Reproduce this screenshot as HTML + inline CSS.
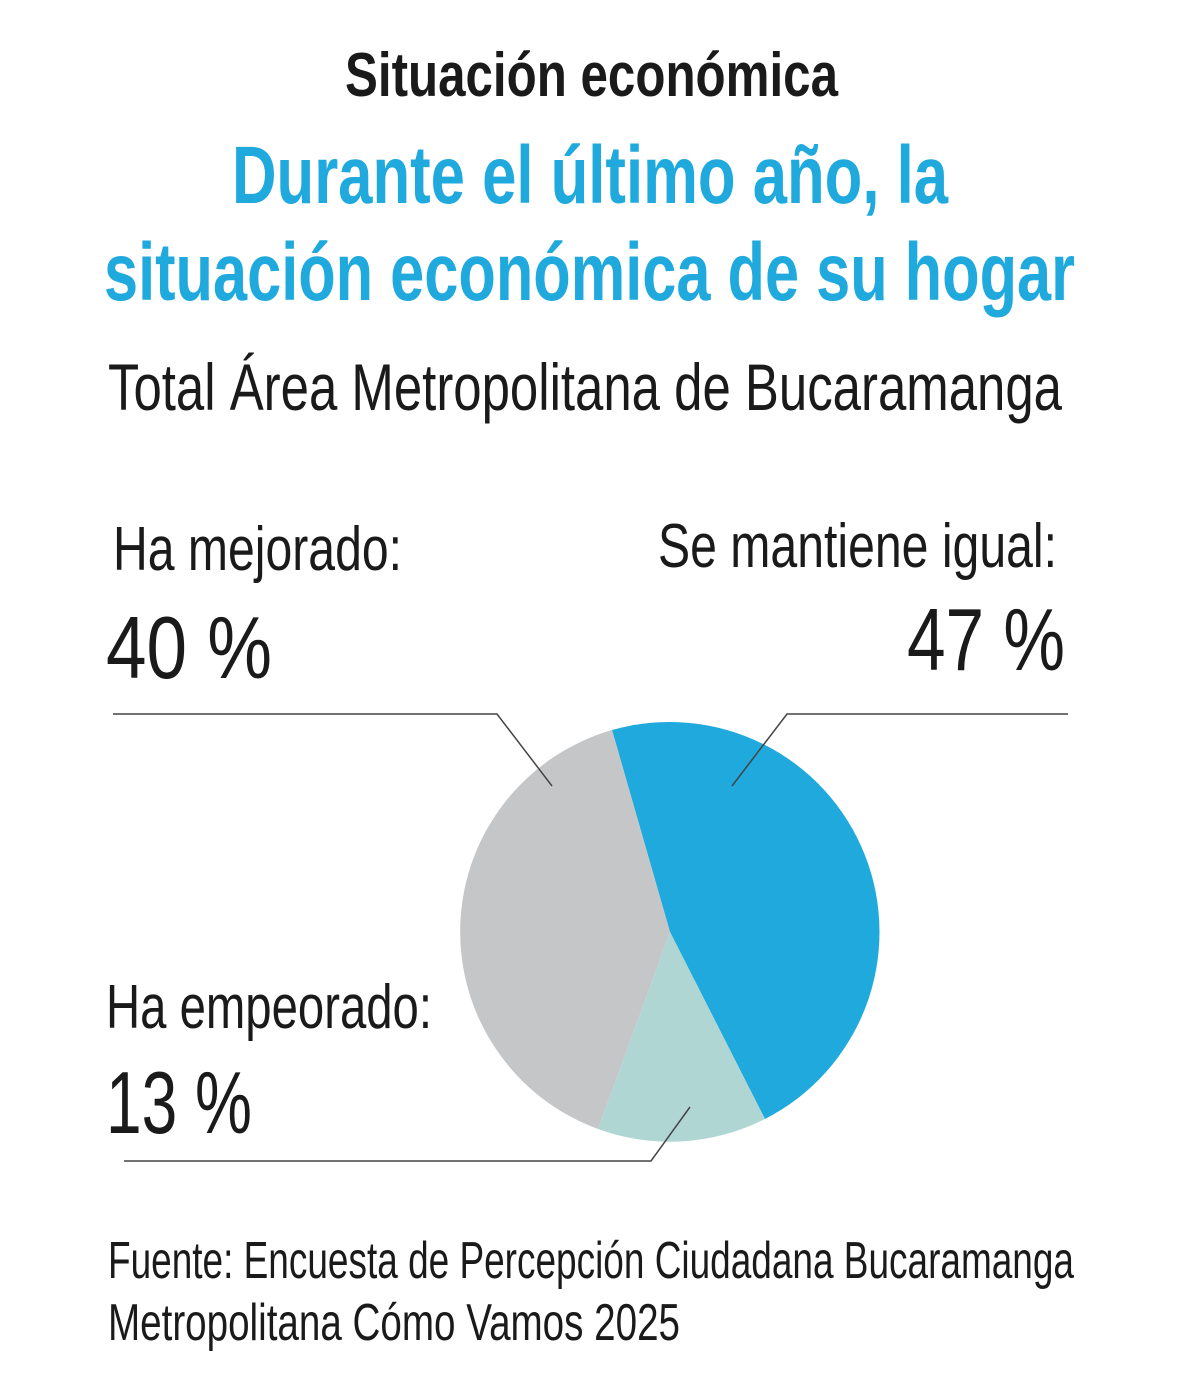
<!DOCTYPE html>
<html><head><meta charset="utf-8"><style>
html,body{margin:0;padding:0;background:#fff;}
svg{display:block;}
text{font-family:"Liberation Sans Narrow","Liberation Sans",sans-serif;}
</style></head><body>
<svg width="1200" height="1379" viewBox="0 0 1200 1379" xmlns="http://www.w3.org/2000/svg">
<rect width="1200" height="1379" fill="#fff"/>
<text x="345" y="96" font-size="62" font-weight="bold" fill="#1a1a1a" textLength="493" lengthAdjust="spacingAndGlyphs">Situación económica</text>
<text x="232" y="203" font-size="82" font-weight="bold" fill="#1fa9dc" textLength="716" lengthAdjust="spacingAndGlyphs">Durante el último año, la</text>
<text x="104" y="300" font-size="82" font-weight="bold" fill="#1fa9dc" textLength="971" lengthAdjust="spacingAndGlyphs">situación económica de su hogar</text>
<text x="108" y="410" font-size="66" fill="#1a1a1a" textLength="954" lengthAdjust="spacingAndGlyphs">Total Área Metropolitana de Bucaramanga</text>

<text x="113" y="570" font-size="62" fill="#1a1a1a" textLength="289" lengthAdjust="spacingAndGlyphs">Ha mejorado:</text>
<text x="106" y="678" font-size="88" fill="#1a1a1a" textLength="166" lengthAdjust="spacingAndGlyphs">40 %</text>
<text x="658" y="567" font-size="62" fill="#1a1a1a" textLength="399" lengthAdjust="spacingAndGlyphs">Se mantiene igual:</text>
<text x="907" y="670" font-size="88" fill="#1a1a1a" textLength="158" lengthAdjust="spacingAndGlyphs">47 %</text>
<text x="106" y="1028" font-size="62" fill="#1a1a1a" textLength="326" lengthAdjust="spacingAndGlyphs">Ha empeorado:</text>
<text x="106" y="1133" font-size="88" fill="#1a1a1a" textLength="146" lengthAdjust="spacingAndGlyphs">13 %</text>

<path d="M670 932 L612 730 A210 210 0 0 1 765 1119 Z" fill="#1fa9dc"/>
<path d="M670 932 L765 1119 A210 210 0 0 1 598 1129 Z" fill="#b0d6d4"/>
<path d="M670 932 L598 1129 A210 210 0 0 1 612 730 Z" fill="#c5c6c8"/>

<g fill="none" stroke="#444" stroke-width="1.5">
<polyline points="113,714 497,714 552,786"/>
<polyline points="1068,714 787,714 732,786"/>
<polyline points="124,1161 651,1161 690,1107"/>
</g>

<text x="108" y="1278" font-size="52" fill="#1a1a1a" textLength="966" lengthAdjust="spacingAndGlyphs">Fuente: Encuesta de Percepción Ciudadana Bucaramanga</text>
<text x="108" y="1340" font-size="52" fill="#1a1a1a" textLength="572" lengthAdjust="spacingAndGlyphs">Metropolitana Cómo Vamos 2025</text>
</svg>
</body></html>
